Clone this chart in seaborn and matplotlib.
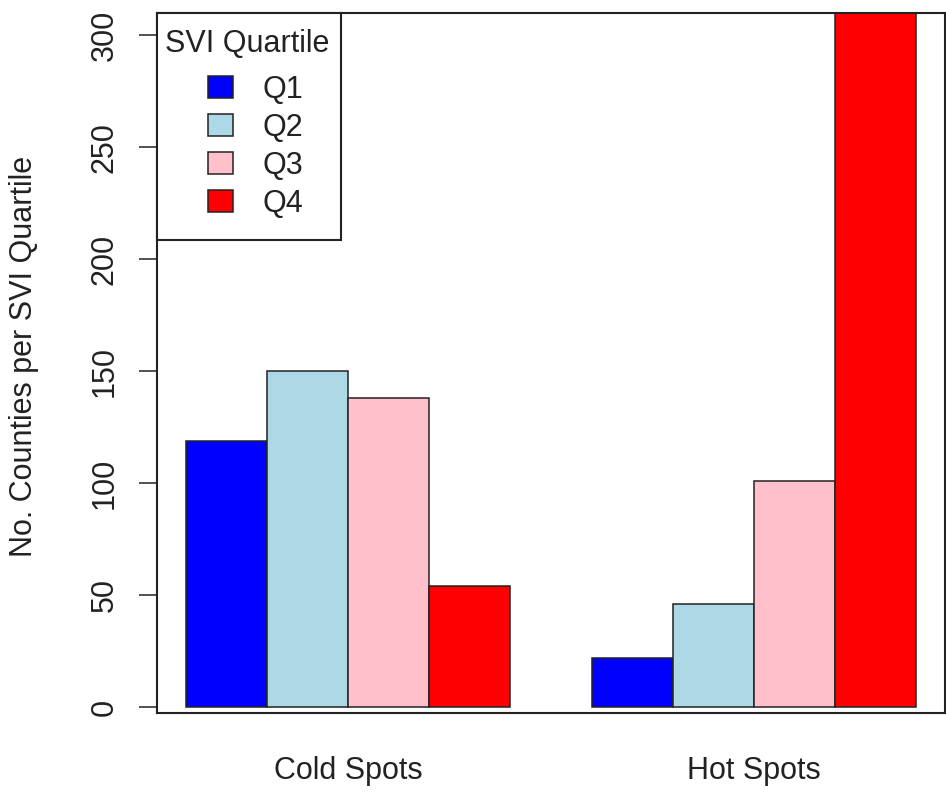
import pandas as pd
import matplotlib
matplotlib.use("Agg")
import matplotlib.pyplot as plt
import matplotlib.patches as mpatches
import seaborn as sns

sns.set_style("white")
plt.rcParams['font.family'] = ['Liberation Sans', 'DejaVu Sans']

# data
spots = ["Cold Spots", "Hot Spots"]
quartiles = ["Q1", "Q2", "Q3", "Q4"]
cold_counts = [119, 150, 138, 54]
hot_counts = [22, 46, 101, 338]   # Hot/Q4 runs past the top of the plot
bar_colors = ["#0000FF", "#ADD8E6", "#FFC0CB", "#FF0000"]

df = pd.DataFrame({
    "spot": [s for s in spots for _ in quartiles],
    "quartile": quartiles * 2,
    "count": cold_counts + hot_counts,
})

fig = plt.figure(figsize=(9.46, 7.92), dpi=100)
ax = fig.add_axes([157 / 946, 1 - 713 / 792, 788 / 946, 700 / 792])

sns.barplot(data=df, x="spot", y="count", hue="quartile", order=spots,
            hue_order=quartiles, palette=bar_colors, width=0.8,
            edgecolor="#222222", linewidth=1.1, saturation=1, ax=ax)

ax.set_xlim(-0.472, 1.472)
ax.set_ylim(-2.7, 310)
ax.set_yticks(range(0, 301, 50))
ax.set_xlabel("")
ax.set_ylabel("No. Counties per SVI Quartile", fontsize=22, color="#222222", va="center")
ax.yaxis.set_label_coords(-0.169, 0.51)

for side in ax.spines.values():
    side.set_visible(True)
    side.set_color("#222222")
    side.set_linewidth(1.5)

ax.tick_params(axis="y", length=13, width=1.1, color="#222222", pad=14,
               labelsize=22, labelcolor="#222222", left=True)
ax.tick_params(axis="x", length=0, pad=31, labelsize=22, labelcolor="#222222")
for lab in ax.get_yticklabels():
    lab.set_rotation(90)
    lab.set_va("center")

# legend box like R's legend(): frame and title drawn separately
box = mpatches.Rectangle((0, (713 - 240) / 700), (341 - 157) / 788, (240 - 13) / 700,
                         transform=ax.transAxes, facecolor="white",
                         edgecolor="#222222", linewidth=1.5, zorder=4.5,
                         clip_on=False)
ax.add_patch(box)
ax.text(8 / 788, (713 - 52) / 700, "SVI Quartile", transform=ax.transAxes,
        fontsize=22, color="#222222", ha="left", va="baseline", zorder=6)

handles, labels = ax.get_legend_handles_labels()
leg = ax.legend(handles, labels, loc="upper left",
                bbox_to_anchor=((208 - 157) / 788, 1 - (75 - 13) / 700),
                borderaxespad=0, fontsize=22, frameon=False,
                handlelength=0.82, handleheight=0.72, handletextpad=0.95,
                labelspacing=0.26, borderpad=0)
leg.set_zorder(5)
for t in leg.get_texts():
    t.set_color("#222222")

fig.savefig("out.png", dpi=100)
